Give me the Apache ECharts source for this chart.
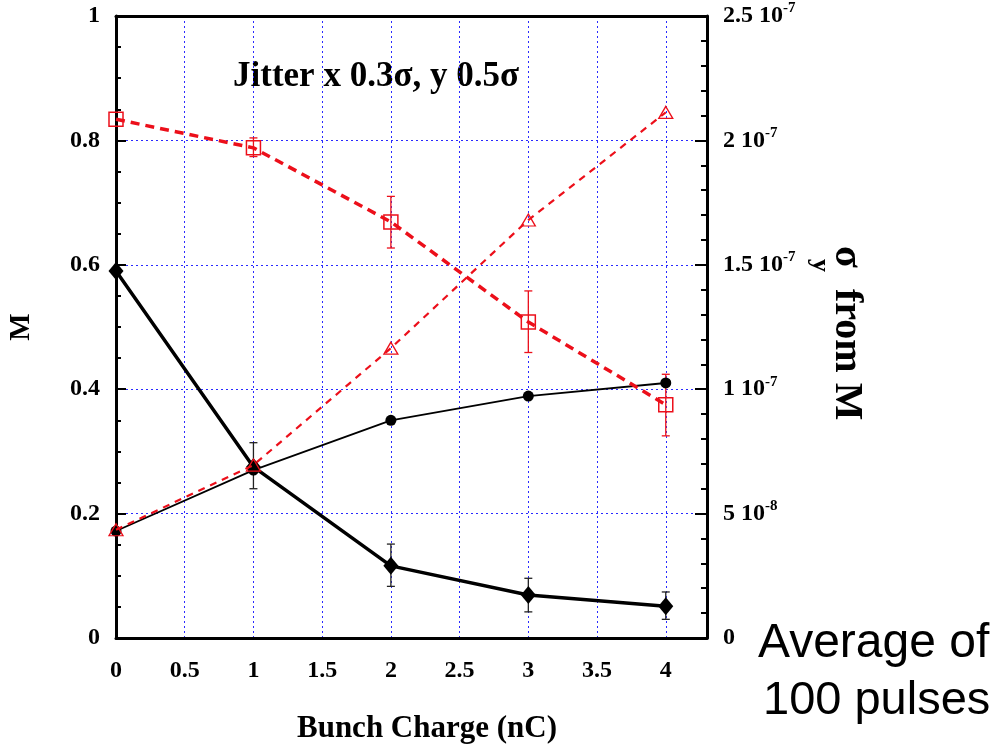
<!DOCTYPE html>
<html><head><meta charset="utf-8">
<script src="https://cdn.jsdelivr.net/npm/echarts@6/dist/echarts.min.js"></script>
<style>html,body{margin:0;padding:0;background:#fff}#c{width:994px;height:746px}</style>
</head><body><div id="c"></div>
<script>
// ---- data ----
const charge = [0, 1, 2, 3, 4];
const mDiamond = [0.59, 0.275, 0.116, 0.069, 0.051];
const diamondErrLow = [null, 0.24, 0.083, 0.042, 0.030];
const diamondErrHigh = [null, 0.314, 0.151, 0.096, 0.074];
const mCircle = [0.172, 0.27, 0.35, 0.389, 0.41];
const sigmaSquare = [0.834, 0.788, 0.669, 0.508, 0.375];
const squareErrLow = [null, 0.774, 0.627, 0.459, 0.325];
const squareErrHigh = [null, 0.804, 0.71, 0.558, 0.424];
const sigmaTriangle = [0.174, 0.278, 0.466, 0.672, 0.845];
const xTickLabels = [0, 0.5, 1, 1.5, 2, 2.5, 3, 3.5, 4];
const leftTickLabels = [0, 0.2, 0.4, 0.6, 0.8, 1];
const rightTickValues = [0, 5, 10, 15, 20, 25];       // units of 1e-8
const rightTickMantissa = ['0', '5', '1', '1.5', '2', '2.5'];
const rightTickExp = ['', '-8', '-7', '-7', '-7', '-7'];

const SERIF = '"Liberation Serif", "Times New Roman", serif';
const SANS = '"Liberation Sans", Arial, sans-serif';
const RED = '#ec0f1a';
const GRID_BLUE = '#2a2aff';

function pairs(ys) { return charge.map((c, i) => [c, ys[i]]); }

function errSeries(low, high, color, width) {
  const data = [];
  charge.forEach((c, i) => { if (low[i] != null) data.push([c, low[i], high[i]]); });
  return {
    type: 'custom', xAxisIndex: 0, yAxisIndex: 0, z: 3, silent: true,
    encode: { x: 0, y: [1, 2] },
    data: data,
    renderItem: function (params, api) {
      const x = api.value(0);
      const p1 = api.coord([x, api.value(1)]);
      const p2 = api.coord([x, api.value(2)]);
      const cap = 4;
      const st = { stroke: color, lineWidth: width };
      return { type: 'group', children: [
        { type: 'line', shape: { x1: p1[0], y1: p1[1], x2: p2[0], y2: p2[1] }, style: st },
        { type: 'line', shape: { x1: p1[0] - cap, y1: p1[1], x2: p1[0] + cap, y2: p1[1] }, style: st },
        { type: 'line', shape: { x1: p2[0] - cap, y1: p2[1], x2: p2[0] + cap, y2: p2[1] }, style: st }
      ]};
    }
  };
}

const labelStyle = { fontFamily: SERIF, fontWeight: 'bold', fontSize: 24, color: '#000' };
const gridLine = { show: true, lineStyle: { color: GRID_BLUE, width: 1, type: [2, 3] } };

const chart = echarts.init(document.getElementById('c'), null, { renderer: 'canvas' });
chart.setOption({
  animation: false,
  backgroundColor: '#fff',
  grid: { left: 116, right: 287, top: 16, bottom: 108 },
  xAxis: [
    {
      type: 'value', min: 0, max: 4.3, interval: 0.5, position: 'bottom',
      axisLine: { show: true, onZero: false, lineStyle: { color: '#000', width: 3 } },
      axisTick: { show: false },
      axisLabel: Object.assign({ margin: 21, formatter: v => xTickLabels.indexOf(v) >= 0 ? String(v) : '' }, labelStyle),
      splitLine: gridLine
    },
    {
      type: 'value', min: 0, max: 4.3, interval: 0.5, position: 'top',
      axisLine: { show: true, onZero: false, lineStyle: { color: '#000', width: 3 } },
      axisTick: { show: false }, axisLabel: { show: false }, splitLine: { show: false }
    }
  ],
  yAxis: [
    {
      type: 'value', min: 0, max: 1, interval: 0.2, position: 'left',
      axisLine: { show: true, onZero: false, lineStyle: { color: '#000', width: 3 } },
      axisTick: { show: true, inside: true, length: 10, lineStyle: { color: '#000', width: 2 } },
      minorTick: { show: true, splitNumber: 4, length: 5, lineStyle: { color: '#000', width: 2 } },
      axisLabel: Object.assign({ margin: 16, formatter: v => leftTickLabels.indexOf(v) >= 0 ? String(v) : '' }, labelStyle),
      splitLine: gridLine
    },
    {
      type: 'value', min: 0, max: 25, interval: 5, position: 'right',
      axisLine: { show: true, onZero: false, lineStyle: { color: '#000', width: 3 } },
      axisTick: { show: true, inside: true, length: 12, lineStyle: { color: '#000', width: 2 } },
      minorTick: { show: true, splitNumber: 5, length: 6, lineStyle: { color: '#000', width: 2 } },
      splitLine: { show: false },
      axisLabel: {
        margin: 16,
        formatter: function (v) {
          const i = rightTickValues.indexOf(v);
          if (i < 0) return '';
          return rightTickExp[i] ? '{b|' + rightTickMantissa[i] + ' 10}{s|' + rightTickExp[i] + '}' : '{b|' + rightTickMantissa[i] + '}';
        },
        rich: {
          b: { fontFamily: SERIF, fontWeight: 'bold', fontSize: 24, color: '#000', lineHeight: 30 },
          s: { fontFamily: SERIF, fontWeight: 'bold', fontSize: 15, color: '#000', verticalAlign: 'top', lineHeight: 15 }
        }
      }
    }
  ],
  series: [
    errSeries(diamondErrLow, diamondErrHigh, '#222', 1.3),
    errSeries(squareErrLow, squareErrHigh, RED, 1.3),
    {
      type: 'line', data: pairs(mDiamond), z: 4,
      symbol: 'diamond', symbolSize: [15, 18],
      lineStyle: { color: '#000', width: 3.5 },
      itemStyle: { color: '#000' }
    },
    {
      type: 'line', data: pairs(mCircle), z: 4,
      symbol: 'circle', symbolSize: 11,
      lineStyle: { color: '#000', width: 1.8 },
      itemStyle: { color: '#000' }
    },
    {
      type: 'line', data: pairs(sigmaSquare), z: 5,
      symbol: 'rect', symbolSize: 14,
      lineStyle: { color: RED, width: 3.5, type: [9, 6] },
      itemStyle: { color: 'rgba(0,0,0,0)', borderColor: RED, borderWidth: 1.5 }
    },
    {
      type: 'line', data: pairs(sigmaTriangle), z: 5,
      symbol: 'triangle', symbolSize: [14, 12],
      lineStyle: { color: RED, width: 2.2, type: [7, 6] },
      itemStyle: { color: 'rgba(0,0,0,0)', borderColor: RED, borderWidth: 1.3 }
    }
  ],
  graphic: [
    { type: 'text', x: 376, y: 77, style: { text: 'Jitter x 0.3σ, y 0.5σ', fontFamily: SERIF, fontWeight: 'bold', fontSize: 35, fill: '#000', align: 'center', verticalAlign: 'middle' } },
    { type: 'text', x: 427, y: 729, style: { text: 'Bunch Charge (nC)', fontFamily: SERIF, fontWeight: 'bold', fontSize: 31, fill: '#000', align: 'center', verticalAlign: 'middle' } },
    { type: 'text', x: 22, y: 327, rotation: Math.PI / 2, style: { text: 'M', fontFamily: SERIF, fontWeight: 'bold', fontSize: 29, fill: '#000', align: 'center', verticalAlign: 'middle' } },
    { type: 'text', x: 846, y: 246, rotation: -Math.PI / 2, style: { text: 'σ', fontFamily: SERIF, fontWeight: 'bold', fontSize: 40, fill: '#000', align: 'left', verticalAlign: 'middle' } },
    { type: 'text', x: 820, y: 259, rotation: -Math.PI / 2, style: { text: 'y', fontFamily: SERIF, fontWeight: 'bold', fontSize: 26, fill: '#000', align: 'left', verticalAlign: 'middle' } },
    { type: 'text', x: 846, y: 289, rotation: -Math.PI / 2, style: { text: 'from M', fontFamily: SERIF, fontWeight: 'bold', fontSize: 40, fill: '#000', align: 'left', verticalAlign: 'middle' } },
    { type: 'text', x: 758, y: 644, style: { text: 'Average of', fontFamily: SANS, fontSize: 48, fill: '#000', align: 'left', verticalAlign: 'middle' } },
    { type: 'text', x: 763, y: 701, style: { text: '100 pulses', fontFamily: SANS, fontSize: 47, fill: '#000', align: 'left', verticalAlign: 'middle' } }
  ]
});
</script>
</body></html>
